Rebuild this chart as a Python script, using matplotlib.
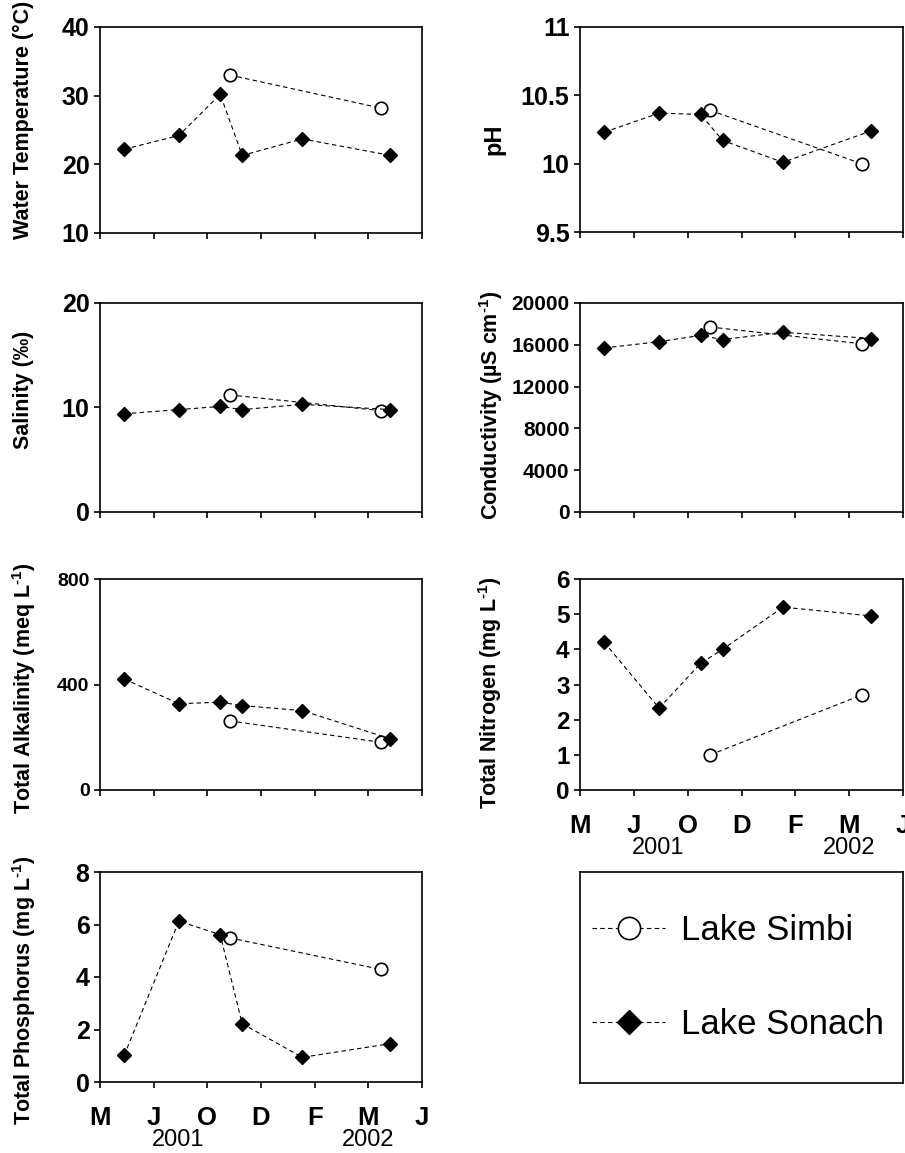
import matplotlib
matplotlib.use("Agg")
import matplotlib.pyplot as plt
from matplotlib.lines import Line2D

plt.rcParams["font.family"] = ["Liberation Sans", "DejaVu Sans"]
plt.rcParams["mathtext.fontset"] = "custom"
plt.rcParams["mathtext.rm"] = "Liberation Sans:bold"
plt.rcParams["mathtext.it"] = "Liberation Sans:bold"
plt.rcParams["mathtext.default"] = "rm"

# x axis: sampling campaign, month ticks
MONTHS = ["M", "J", "O", "D", "F", "M", "J"]
YEARS = ["2001", "2002"]
YEAR_POS = [1.45, 5.0]

# sampling dates, in month-tick units
X_SIMBI = [2.42, 5.23]
X_SONACH = [0.45, 1.47, 2.24, 2.65, 3.77, 5.41]

TEMP_SIMBI = [33.0, 28.2]
TEMP_SONACH = [22.2, 24.2, 30.2, 21.3, 23.7, 21.3]

PH_SIMBI = [10.39, 10.0]
PH_SONACH = [10.23, 10.37, 10.36, 10.17, 10.01, 10.24]

SAL_SIMBI = [11.2, 9.7]
SAL_SONACH = [9.4, 9.8, 10.1, 9.8, 10.3, 9.8]

COND_SIMBI = [17700, 16100]
COND_SONACH = [15700, 16300, 16900, 16500, 17200, 16600]

ALK_SIMBI = [262, 181]
ALK_SONACH = [421, 327, 333, 320, 301, 194]

TN_SIMBI = [1.0, 2.7]
TN_SONACH = [4.2, 2.33, 3.6, 4.0, 5.2, 4.95]

TP_SIMBI = [5.49, 4.29]
TP_SONACH = [1.01, 6.13, 5.61, 2.22, 0.94, 1.46]

W, H = 905, 1153
fig = plt.figure(figsize=(W / 100, H / 100), dpi=100)


def px_axes(left, top, right, bottom):
    return fig.add_axes([left / W, 1 - bottom / H, (right - left) / W, (bottom - top) / H])


SUP = r"$^{\text{-1}}$"

# (ylabel, simbi, sonach, ylim, yticks, yticklabels, tick fontsize,
#  rect px, label x/y px, label fontsize, bottom row?)
panels = [
    ("Water Temperature (°C)", TEMP_SIMBI, TEMP_SONACH, (10, 40), [10, 20, 30, 40],
     None, 18, (100, 27, 422, 233), (23, 120), 15.5, False),
    ("pH", PH_SIMBI, PH_SONACH, (9.5, 11), [9.5, 10, 10.5, 11],
     ["9.5", "10", "10.5", "11"], 18, (580, 27, 903, 232), (494, 139), 17, False),
    ("Salinity (‰)", SAL_SIMBI, SAL_SONACH, (0, 20), [0, 10, 20],
     None, 18, (100, 303, 422, 512), (23, 390), 15.5, False),
    ("Conductivity (µS cm" + SUP + ")", COND_SIMBI, COND_SONACH, (0, 20000),
     [0, 4000, 8000, 12000, 16000, 20000], None, 15, (580, 303, 903, 512),
     (491, 405), 15.5, False),
    ("Total Alkalinity (meq L" + SUP + ")", ALK_SIMBI, ALK_SONACH, (0, 800), [0, 400, 800],
     None, 14, (100, 579, 422, 790), (24, 688), 15.5, False),
    ("Total Nitrogen (mg L" + SUP + ")", TN_SIMBI, TN_SONACH, (0, 6), list(range(7)),
     None, 17.5, (580, 579, 903, 790), (490, 693), 15.5, True),
    ("Total Phosphorus (mg L" + SUP + ")", TP_SIMBI, TP_SONACH, (0, 8), [0, 2, 4, 6, 8],
     None, 18, (100, 872, 422, 1082), (24, 990), 15.5, True),
]

line_kw = dict(color="black", lw=0.8, dashes=(4, 3))
simbi_kw = dict(marker="o", ms=9, mfc="white", mec="black", mew=1.2)
sonach_kw = dict(marker="D", ms=6.8, mfc="black", mec="black")

for (ylabel, simbi, sonach, ylim, yticks, ytl, tfs, rect, lpos, lfs, bottom) in panels:
    ax = px_axes(*rect)
    ax.plot(X_SIMBI, simbi, **line_kw, **simbi_kw, zorder=3, clip_on=False)
    ax.plot(X_SONACH, sonach, **line_kw, **sonach_kw, zorder=3, clip_on=False)
    ax.set_xlim(0, 6)
    ax.set_ylim(*ylim)
    ax.set_yticks(yticks)
    if ytl is not None:
        ax.set_yticklabels(ytl)
    ax.set_xticks(range(7))
    for sp in ax.spines.values():
        sp.set_linewidth(1.2)
    ax.tick_params(axis="both", direction="out", length=4.5, width=1.2)
    ax.tick_params(axis="y", labelsize=tfs, pad=3)
    for lab in ax.get_yticklabels():
        lab.set_fontweight("bold")
    if bottom:
        ax.set_xticklabels(MONTHS, fontsize=18.5, fontweight="bold")
        ax.tick_params(axis="x", pad=13)
        for yr, xp in zip(YEARS, YEAR_POS):
            ax.annotate(yr, xy=(xp, 0), xycoords=("data", "axes fraction"),
                        xytext=(0, -42), textcoords="offset points",
                        ha="center", va="center", fontsize=17)
    else:
        ax.set_xticklabels([])
    fig.text(lpos[0] / W, 1 - lpos[1] / H, ylabel, rotation=90,
             ha="center", va="center", fontsize=lfs, fontweight="bold")

# legend box
axl = px_axes(580, 872, 903, 1083)
axl.set_xticks([])
axl.set_yticks([])
for sp in axl.spines.values():
    sp.set_linewidth(1.2)
handles = [
    Line2D([], [], color="black", lw=0.8, dashes=(4, 3), marker="o", ms=16,
           mfc="white", mec="black", mew=1.2),
    Line2D([], [], color="black", lw=0.8, dashes=(4, 3), marker="D", ms=12,
           mfc="black", mec="black"),
]
axl.legend(handles, ["Lake Simbi", "Lake Sonach"], loc="center left",
           bbox_to_anchor=(-0.005, 0.5), frameon=False, fontsize=25,
           handlelength=2.1, handletextpad=0.45, labelspacing=1.75,
           borderaxespad=0.0)

fig.savefig("out.png", dpi=100)
